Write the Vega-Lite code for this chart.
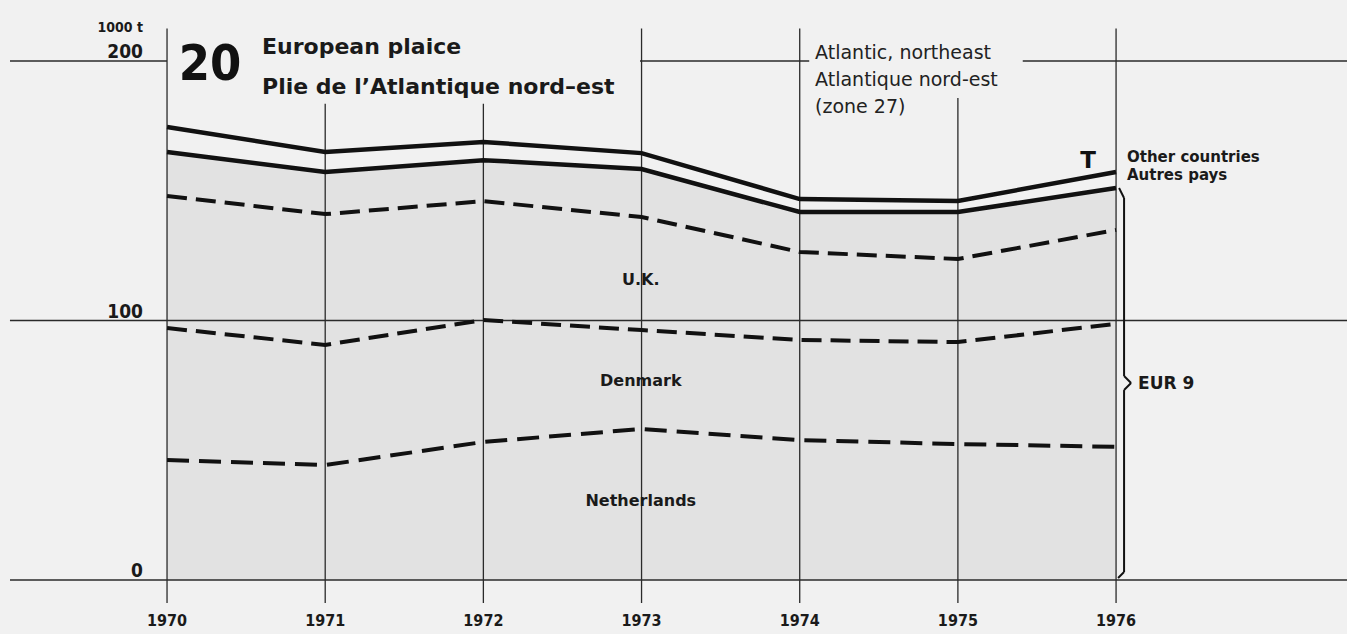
{
  "$schema": "https://vega.github.io/schema/vega-lite/v6.json",
  "width": 1347,
  "height": 634,
  "autosize": "none",
  "padding": 0,
  "background": "#f1f1f1",
  "config": {"view": {"stroke": null}},
  "data": {"values": [
    {"year": 1970, "total": 174.6, "eur9": 164.9, "uk": 148.0, "dk": 97.1, "nl": 46.2},
    {"year": 1971, "total": 164.9, "eur9": 157.2, "uk": 141.0, "dk": 90.6, "nl": 44.3},
    {"year": 1972, "total": 168.8, "eur9": 161.8, "uk": 146.0, "dk": 100.2, "nl": 53.2},
    {"year": 1973, "total": 164.5, "eur9": 158.4, "uk": 139.9, "dk": 96.3, "nl": 58.2},
    {"year": 1974, "total": 146.8, "eur9": 141.8, "uk": 126.4, "dk": 92.5, "nl": 53.9},
    {"year": 1975, "total": 146.1, "eur9": 141.8, "uk": 123.7, "dk": 91.7, "nl": 52.4},
    {"year": 1976, "total": 157.2, "eur9": 151.1, "uk": 134.9, "dk": 98.7, "nl": 51.3}
  ]},
  "layer": [
    {
      "mark": {"type": "area", "fill": "#e2e2e2", "interpolate": "linear"},
      "encoding": {
        "x": {"field": "year", "type": "quantitative", "scale": {"domain": [1968.944, 1977.46], "nice": false, "zero": false}, "axis": null},
        "y": {"field": "eur9", "type": "quantitative", "scale": {"domain": [-20.81, 223.51], "nice": false, "zero": false}, "axis": null},
        "y2": {"datum": 0}
      }
    },
    {
      "data": {"values": [{}]},
      "mark": {"type": "rule", "stroke": "#2a2a2a", "strokeWidth": 1.3},
      "encoding": {"x": {"datum": 1969.007}, "x2": {"datum": 1977.46}, "y": {"datum": 0}}
    },
    {
      "data": {"values": [{}]},
      "mark": {"type": "rule", "stroke": "#2a2a2a", "strokeWidth": 1.3},
      "encoding": {"x": {"datum": 1969.007}, "x2": {"datum": 1977.46}, "y": {"datum": 100}}
    },
    {
      "data": {"values": [{}]},
      "mark": {"type": "rule", "stroke": "#2a2a2a", "strokeWidth": 1.3},
      "encoding": {"x": {"datum": 1969.007}, "x2": {"datum": 1970}, "y": {"datum": 200}}
    },
    {
      "data": {"values": [{}]},
      "mark": {"type": "rule", "stroke": "#2a2a2a", "strokeWidth": 1.3},
      "encoding": {"x": {"datum": 1972.990}, "x2": {"datum": 1974.06}, "y": {"datum": 200}}
    },
    {
      "data": {"values": [{}]},
      "mark": {"type": "rule", "stroke": "#2a2a2a", "strokeWidth": 1.3},
      "encoding": {"x": {"datum": 1975.41}, "x2": {"datum": 1977.46}, "y": {"datum": 200}}
    },
    {
      "transform": [{"filter": "datum.year == 1970 || datum.year == 1973 || datum.year == 1974 || datum.year == 1976"}],
      "mark": {"type": "rule", "stroke": "#2a2a2a", "strokeWidth": 1.3},
      "encoding": {"x": {"field": "year", "type": "quantitative"}, "y": {"datum": -8.9}, "y2": {"datum": 212.5}}
    },
    {
      "transform": [{"filter": "datum.year == 1971 || datum.year == 1972"}],
      "mark": {"type": "rule", "stroke": "#2a2a2a", "strokeWidth": 1.3},
      "encoding": {"x": {"field": "year", "type": "quantitative"}, "y": {"datum": -8.9}, "y2": {"datum": 183.5}}
    },
    {
      "transform": [{"filter": "datum.year == 1975"}],
      "mark": {"type": "rule", "stroke": "#2a2a2a", "strokeWidth": 1.3},
      "encoding": {"x": {"field": "year", "type": "quantitative"}, "y": {"datum": -8.9}, "y2": {"datum": 185.7}}
    },
    {
      "mark": {"type": "line", "stroke": "#111111", "strokeWidth": 4.5, "interpolate": "linear"},
      "encoding": {"x": {"field": "year", "type": "quantitative"}, "y": {"field": "total", "type": "quantitative"}}
    },
    {
      "mark": {"type": "line", "stroke": "#111111", "strokeWidth": 4.5, "interpolate": "linear"},
      "encoding": {"x": {"field": "year", "type": "quantitative"}, "y": {"field": "eur9", "type": "quantitative"}}
    },
    {
      "mark": {"type": "line", "stroke": "#111111", "strokeWidth": 4, "strokeDash": [20, 9], "strokeCap": "butt", "interpolate": "linear"},
      "encoding": {"x": {"field": "year", "type": "quantitative"}, "y": {"field": "uk", "type": "quantitative"}}
    },
    {
      "mark": {"type": "line", "stroke": "#111111", "strokeWidth": 4, "strokeDash": [20, 9], "strokeCap": "butt", "interpolate": "linear"},
      "encoding": {"x": {"field": "year", "type": "quantitative"}, "y": {"field": "dk", "type": "quantitative"}}
    },
    {
      "mark": {"type": "line", "stroke": "#111111", "strokeWidth": 4, "strokeDash": [22, 10], "strokeCap": "butt", "interpolate": "linear"},
      "encoding": {"x": {"field": "year", "type": "quantitative"}, "y": {"field": "nl", "type": "quantitative"}}
    },
    {
      "mark": {"type": "text", "font": "Liberation Sans Narrow, DejaVu Sans Condensed, sans-serif", "fontWeight": "bold", "fontSize": 16, "baseline": "middle", "align": "center", "fill": "#1a1a1a"},
      "encoding": {"x": {"field": "year", "type": "quantitative"}, "y": {"datum": -15.8}, "text": {"field": "year", "type": "quantitative", "format": "d"}}
    },
    {
      "data": {"values": [{"v": 0}, {"v": 100}, {"v": 200}]},
      "mark": {"type": "text", "font": "Liberation Sans Narrow, DejaVu Sans Condensed, sans-serif", "fontWeight": "bold", "fontSize": 19, "baseline": "alphabetic", "align": "right", "dy": -3, "fill": "#1a1a1a"},
      "encoding": {"x": {"datum": 1969.848}, "y": {"field": "v", "type": "quantitative"}, "text": {"field": "v", "type": "quantitative", "format": "d"}}
    },
    {
      "data": {"values": [{}]},
      "mark": {"type": "text", "text": "1000 t", "font": "Liberation Sans Narrow, DejaVu Sans Condensed, sans-serif", "fontWeight": "bold", "fontSize": 14, "baseline": "middle", "align": "right", "fill": "#1a1a1a"},
      "encoding": {"x": {"datum": 1969.848}, "y": {"datum": 212.7}}
    },
    {
      "data": {"values": [{}]},
      "mark": {"type": "text", "text": "20", "font": "Liberation Sans Narrow, DejaVu Sans Condensed, sans-serif", "fontWeight": "bold", "fontSize": 50, "baseline": "alphabetic", "align": "center", "fill": "#111111"},
      "encoding": {"x": {"datum": 1970.272}, "y": {"datum": 192.7}}
    },
    {
      "data": {"values": [{}]},
      "mark": {"type": "text", "text": "European plaice", "font": "DejaVu Sans", "fontWeight": "bold", "fontSize": 22, "baseline": "alphabetic", "align": "left", "fill": "#1a1a1a"},
      "encoding": {"x": {"datum": 1970.6006}, "y": {"datum": 202.7}}
    },
    {
      "data": {"values": [{}]},
      "mark": {"type": "text", "text": "Plie de l’Atlantique nord–est", "font": "DejaVu Sans", "fontWeight": "bold", "fontSize": 22, "baseline": "alphabetic", "align": "left", "fill": "#1a1a1a"},
      "encoding": {"x": {"datum": 1970.6006}, "y": {"datum": 187.3}}
    },
    {
      "data": {"values": [{"t": "Atlantic, northeast", "v": 200.8}, {"t": "Atlantique nord-est", "v": 190.4}, {"t": "(zone 27)", "v": 180.0}]},
      "mark": {"type": "text", "font": "DejaVu Sans", "fontSize": 19, "baseline": "alphabetic", "align": "left", "fill": "#222222"},
      "encoding": {"x": {"datum": 1974.097}, "y": {"field": "v", "type": "quantitative"}, "text": {"field": "t"}}
    },
    {
      "data": {"values": [{}]},
      "mark": {"type": "text", "text": "T", "font": "DejaVu Sans", "fontWeight": "bold", "fontSize": 23, "baseline": "middle", "align": "center", "fill": "#111111"},
      "encoding": {"x": {"datum": 1975.823}, "y": {"datum": 161.5}}
    },
    {
      "data": {"values": [{"t": "Other countries", "v": 161.1}, {"t": "Autres pays", "v": 154.1}]},
      "mark": {"type": "text", "font": "DejaVu Sans", "fontWeight": "bold", "fontSize": 15, "baseline": "alphabetic", "align": "left", "fill": "#1a1a1a"},
      "encoding": {"x": {"datum": 1976.069}, "y": {"field": "v", "type": "quantitative"}, "text": {"field": "t"}}
    },
    {
      "data": {"values": [{}]},
      "mark": {"type": "text", "text": "EUR 9", "font": "DejaVu Sans", "fontWeight": "bold", "fontSize": 17, "baseline": "middle", "align": "left", "fill": "#1a1a1a"},
      "encoding": {"x": {"datum": 1976.139}, "y": {"datum": 75.5}}
    },
    {
      "data": {"values": [{"t": "U.K.", "v": 115.5}, {"t": "Denmark", "v": 76.7}, {"t": "Netherlands", "v": 30.4}]},
      "mark": {"type": "text", "font": "DejaVu Sans", "fontWeight": "bold", "fontSize": 16, "baseline": "middle", "align": "center", "fill": "#1a1a1a"},
      "encoding": {"x": {"datum": 1972.995}, "y": {"field": "v", "type": "quantitative"}, "text": {"field": "t"}}
    },
    {
      "data": {"values": [{}]},
      "mark": {"type": "rule", "stroke": "#111111", "strokeWidth": 2},
      "encoding": {"x": {"datum": 1976.019}, "x2": {"datum": 1976.0506}, "y": {"datum": 151.06}, "y2": {"datum": 147.2}}
    },
    {
      "data": {"values": [{}]},
      "mark": {"type": "rule", "stroke": "#111111", "strokeWidth": 2},
      "encoding": {"x": {"datum": 1976.0506}, "y": {"datum": 147.2}, "y2": {"datum": 78.6}}
    },
    {
      "data": {"values": [{}]},
      "mark": {"type": "rule", "stroke": "#111111", "strokeWidth": 2},
      "encoding": {"x": {"datum": 1976.0506}, "x2": {"datum": 1976.0948}, "y": {"datum": 78.6}, "y2": {"datum": 75.9}}
    },
    {
      "data": {"values": [{}]},
      "mark": {"type": "rule", "stroke": "#111111", "strokeWidth": 2},
      "encoding": {"x": {"datum": 1976.0948}, "x2": {"datum": 1976.0506}, "y": {"datum": 75.9}, "y2": {"datum": 73.2}}
    },
    {
      "data": {"values": [{}]},
      "mark": {"type": "rule", "stroke": "#111111", "strokeWidth": 2},
      "encoding": {"x": {"datum": 1976.0506}, "y": {"datum": 73.2}, "y2": {"datum": 3.08}}
    },
    {
      "data": {"values": [{}]},
      "mark": {"type": "rule", "stroke": "#111111", "strokeWidth": 2},
      "encoding": {"x": {"datum": 1976.0506}, "x2": {"datum": 1976.0126}, "y": {"datum": 3.08}, "y2": {"datum": 0.77}}
    }
  ]
}
